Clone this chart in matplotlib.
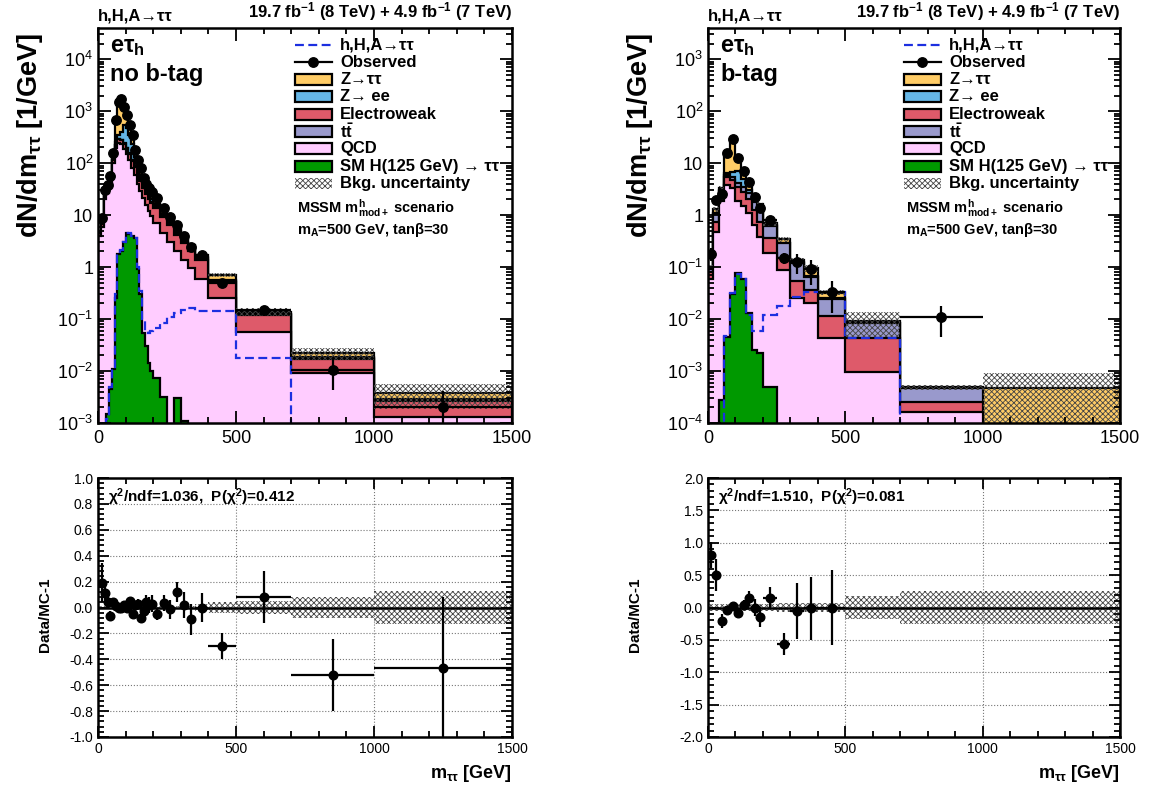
import numpy as np
import matplotlib
matplotlib.use('Agg')
import matplotlib.pyplot as plt
from matplotlib.patches import Rectangle
from matplotlib.lines import Line2D
from matplotlib.ticker import MultipleLocator, FixedLocator, LogLocator, NullFormatter

plt.rcParams['font.family'] = ['Liberation Sans', 'DejaVu Sans']
plt.rcParams['mathtext.fontset'] = 'custom'
plt.rcParams['mathtext.rm'] = 'Liberation Sans'
plt.rcParams['mathtext.bf'] = 'Liberation Sans:bold'
plt.rcParams['mathtext.it'] = 'Liberation Sans:italic'
plt.rcParams['axes.unicode_minus'] = False
plt.rcParams['hatch.linewidth'] = 0.6

############ no b-tag category ############
edges_nb = [0, 10, 20, 30, 40, 50, 60, 70, 80, 90, 100, 110, 120, 130, 140, 150, 160, 170, 180, 190, 200,
            225, 250, 275, 300, 325, 350, 400, 500, 700, 1000, 1500]
qcd_nb = [4, 6, 20, 27, 42, 100, 195, 240, 230, 190, 150, 115, 82, 58, 40, 29, 21, 15.5, 12, 9.5,
          7, 4.5, 3.1, 2.0, 1.35, 0.95, 0.6, 0.25, 0.056, 0.009, 0.0013]
ewk_nb = [0.5, 0.8, 3, 4.5, 7, 14, 30, 45, 50, 48, 42, 36, 30, 26, 20, 16, 12.5, 10, 8.5, 7.5,
          7, 4.6, 3.3, 2.2, 1.5, 1.1, 0.76, 0.26, 0.062, 0.008, 0.0013]
tt_nb = [0.05, 0.05, 0.2, 0.3, 0.5, 1, 2, 3, 4, 4, 4, 3.5, 3, 3, 2.5, 2.2, 1.8, 1.5, 1.3, 1.2,
         1, 0.7, 0.5, 0.35, 0.25, 0.18, 0.12, 0.04, 0.006, 0.001, 0.0002]
zee_nb = [0.1, 0.15, 0.8, 1.2, 2.5, 6, 25, 60, 120, 300, 280, 190, 120, 45, 20, 12, 6, 3.5, 2.6, 2,
          1.5, 0.9, 0.5, 0.3, 0.15, 0.1, 0.05, 0.02, 0.002, 0.0003, 0.0001]
ztt_nb = [0.35, 0.4, 3, 3.5, 8, 28, 411, 1142, 1346, 634, 334, 170, 128, 43, 28.5, 28, 12.7, 8, 8, 7,
          5.5, 2.8, 1.8, 0.85, 0.55, 0.32, 0.17, 0.13, 0.013, 0.0037, 0.0009]
smh_nb = [0, 0, 0, 0.0015, 0.0045, 0.011, 0.25, 1.8, 2.0, 3.0, 4.5, 4.4, 3.9, 3.6, 0.9, 0.3, 0.055, 0.03, 0.014, 0.01,
          0.0074, 0.0032, 0, 0.003, 0.0011, 0, 0, 0, 0, 0, 0]
sig_nb = [0, 0, 0, 0.0012, 0.005, 0.012, 0.3, 1.9, 2.1, 3.1, 4.6, 4.5, 4.0, 3.7, 1.0, 0.35, 0.1, 0.06, 0.055, 0.06,
          0.068, 0.085, 0.11, 0.13, 0.15, 0.16, 0.145, 0.14, 0.018, 0, 0]
unc_nb = [0.04]*26 + [0.06, 0.08, 0.17, 0.27, 0.5]
obs_nb = [np.nan, 8.8, 30, 38, 56, 155, 670, 1490, 1750, 1200, 830, 540, 345, 178, 114, 80, 52, 40, 33, 28,
          21, 14, 9.1, 6.4, 3.9, 2.4, 1.7, 0.49, 0.15, 0.0105, 0.002]
obs_err_nb = [np.nan, 1.3, 1.8, 2.0, 2.3, 4, 8, 13, 14, 11, 9, 7, 6, 4.5, 3.5, 3, 2.5, 2.1, 1.9, 1.7,
              0.9, 0.75, 0.6, 0.45, 0.38, 0.3, 0.18, 0.07, 0.028, 0.0062, 0.0021]
ratio_nb = [np.nan, 0.19, 0.11, 0.04, -0.065, 0.04, 0.01, 0.0, 0.0, 0.02, 0.0, 0.05, -0.05, 0.02, 0.03, -0.08, -0.03, 0.04, 0.02, 0.03,
            -0.05, 0.036, -0.015, 0.12, 0.02, -0.09, 0.0, -0.30, 0.08, -0.52, -0.47]
ratio_err_nb = [np.nan, 0.15, 0.06, 0.05, 0.04, 0.03, 0.015, 0.01, 0.01, 0.012, 0.015, 0.02, 0.025, 0.03, 0.035, 0.04, 0.05, 0.055, 0.06, 0.065,
                0.05, 0.06, 0.07, 0.08, 0.1, 0.12, 0.11, 0.1, 0.2, 0.28, 0.55]
band_nb = [0.015]*26 + [0.025, 0.04, 0.05, 0.08, 0.125]

############ b-tag category ############
edges_bt = [0, 20, 40, 60, 80, 100, 120, 140, 160, 180, 200, 250, 300, 350, 400, 500, 700, 1000, 1500]
qcd_bt = [0.06, 0.47, 1.9, 3.8, 3.3, 1.9, 1.5, 1.1, 0.64, 0.38, 0.19, 0.087, 0.025, 0.02, 0.0043, 0.00095, 0.00016, 0]
ewk_bt = [0.02, 0.28, 0.6, 1.6, 1.5, 1.6, 1.3, 0.9, 0.6, 0.35, 0.17, 0.06, 0.03, 0.016, 0.007, 0.0034, 0.00009, 0]
tt_bt = [0.01, 0.3, 0.4, 0.5, 0.5, 0.6, 0.7, 0.7, 0.55, 0.55, 0.27, 0.14, 0.065, 0.028, 0.013, 0.004, 0.00023, 0]
zee_bt = [0.005, 0.05, 0.1, 0.6, 1.5, 3, 1.5, 0.4, 0.15, 0.1, 0.02, 0.01, 0.003, 0.003, 0.001, 0.0002, 0, 0]
ztt_bt = [0.005, 0.2, 0.3, 10.2, 21.6, 6.5, 1.7, 0.7, 0.26, 0.22, 0.05, 0.043, 0.012, 0.028, 0.007, 0.0005, 0.00001, 0.00047]
smh_bt = [0, 0, 0.00028, 0.0045, 0.031, 0.077, 0.06, 0.013, 0.0025, 0.0022, 0.00049, 0, 0, 0, 0, 0, 0, 0]
sig_bt = [0, 0, 0, 0.0048, 0.032, 0.075, 0.06, 0.012, 0.006, 0.006, 0.012, 0.018, 0.026, 0.033, 0.033, 0.0043, 0, 0]
unc_bt = [0.1, 0.1, 0.08, 0.06, 0.06, 0.06, 0.06, 0.07, 0.08, 0.1, 0.1, 0.12, 0.12, 0.15, 0.12, 0.5, 0.1, 0.96]
obs_bt = [0.18, 1.94, 2.6, 16, 29, 12.5, 7, 4.3, 2.2, 1.36, 0.82, 0.15, 0.125, 0.09, 0.033, np.nan, 0.011, np.nan]
obs_err_bt = [0.05, 0.4, 0.35, 0.6, 1.0, 0.7, 0.5, 0.45, 0.3, 0.2, 0.12, 0.035, 0.05, 0.045, 0.02, np.nan, 0.0065, np.nan]
ratio_bt = [0.81, 0.50, -0.21, -0.04, 0.02, -0.08, 0.04, 0.14, 0.0, -0.145, 0.15, -0.56, -0.05, -0.015, 0.0, np.nan, np.nan, np.nan]
ratio_err_bt = [0.2, 0.25, 0.11, 0.04, 0.035, 0.05, 0.07, 0.12, 0.13, 0.16, 0.17, 0.17, 0.43, 0.49, 0.58, np.nan, np.nan, np.nan]
band_bt = [0.05]*11 + [0.07, 0.07, 0.07, 0.07, 0.17, 0.25, 0.25]

legend_labels = ['h,H,A→ττ', 'Observed', 'Z→ττ', 'Z→ ee', 'Electroweak', r'$\mathbf{t\bar{t}}$', 'QCD',
                 'SM H(125 GeV) → ττ', 'Bkg. uncertainty']
col_qcd, col_ewk, col_tt, col_zee, col_ztt = '#FFCCFF', '#DE5A6A', '#9999CC', '#66B6E6', '#FFCC66'
col_smh, col_sig = '#009900', '#1C2FE0'
FLOOR = 1e-7


def log_lab(e):
    if e == 0:
        return '1'
    if e == 1:
        return '10'
    return r'$10^{%d}$' % e


def top_panel(ax, edges, comps, smh, sig, unc, obs, obs_err, emin, emax, cat):
    edges = np.array(edges, float)
    cum = np.cumsum(np.array(comps, float), axis=0)
    cols = [col_qcd, col_ewk, col_tt, col_zee, col_ztt]
    for k in range(4, -1, -1):
        ax.stairs(np.clip(cum[k], FLOOR, None), edges, baseline=FLOOR, fill=True,
                  facecolor=cols[k], edgecolor='k', lw=1.6)
    ax.stairs(np.clip(smh, FLOOR, None), edges, baseline=FLOOR, fill=True,
              facecolor=col_smh, edgecolor='k', lw=1.6)
    ax.stairs(np.clip(sig, FLOOR, None), edges, baseline=FLOOR, color=col_sig, lw=1.6, ls=(0, (4, 2)))
    tot = cum[-1]
    unc = np.array(unc)
    ax.stairs(np.clip(tot*(1+unc), FLOOR, None), edges, baseline=np.clip(tot*(1-unc), FLOOR, None),
              fill=True, facecolor='none', edgecolor='#444444', hatch='xxxxxx', lw=0)
    cen = 0.5*(edges[1:]+edges[:-1])
    hw = 0.5*(edges[1:]-edges[:-1])
    ax.errorbar(cen, obs, xerr=hw, yerr=obs_err, fmt='o', color='k', ms=6.8, elinewidth=1.6, capsize=0)

    ax.set_yscale('log')
    ax.set_xlim(0, 1500)
    ax.set_ylim(10.0**emin, 10.0**emax)
    ax.yaxis.set_major_locator(FixedLocator([10.0**e for e in range(emin, int(emax)+1)]))
    ax.set_yticklabels([log_lab(e) for e in range(emin, int(emax)+1)])
    ax.yaxis.set_minor_locator(LogLocator(base=10, subs=np.arange(2, 10), numticks=20))
    ax.yaxis.set_minor_formatter(NullFormatter())
    ax.xaxis.set_major_locator(MultipleLocator(500))
    ax.xaxis.set_minor_locator(MultipleLocator(100))
    ax.tick_params(which='both', direction='in', top=True, right=True, width=1.3, labelsize=13)
    ax.tick_params(which='major', length=9)
    ax.tick_params(which='minor', length=4.5)
    ax.tick_params(axis='x', pad=5)
    for s in ax.spines.values():
        s.set_linewidth(1.8)

    # category label
    ax.text(0.03, 0.952, r'e$\mathbf{\tau_h}$', transform=ax.transAxes, fontsize=17, fontweight='bold', va='center')
    ax.text(0.03, 0.882, cat, transform=ax.transAxes, fontsize=17, fontweight='bold', va='center')

    # legend drawn entry by entry
    x0, x1, xt = 0.476, 0.565, 0.585
    y0, dy, bh = 0.957, 0.0438, 0.028
    fills = [col_ztt, col_zee, col_ewk, col_tt, col_qcd, col_smh]
    for i, lab in enumerate(legend_labels):
        y = y0 - i*dy
        if i == 0:
            ax.add_line(Line2D([x0, x1], [y, y], transform=ax.transAxes, color=col_sig, lw=1.6, ls=(0, (4, 2))))
        elif i == 1:
            ax.add_line(Line2D([x0, x1], [y, y], transform=ax.transAxes, color='k', lw=1.6))
            ax.add_line(Line2D([0.5*(x0+x1)], [y], transform=ax.transAxes, color='k', marker='o', ms=6.8))
        elif i < 8:
            ax.add_patch(Rectangle((x0, y-bh/2), x1-x0, bh, transform=ax.transAxes,
                                   facecolor=fills[i-2], edgecolor='k', lw=1.6))
        else:
            ax.add_patch(Rectangle((x0, y-bh/2), x1-x0, bh, transform=ax.transAxes,
                                   facecolor='white', edgecolor='#444444', hatch='xxxxxx', lw=0))
        ax.text(xt, y, lab, transform=ax.transAxes, fontsize=12, fontweight='bold', va='center')
    ax.text(0.481, 0.544, r'MSSM m$^{\mathbf{h}}_{\mathbf{mod+}}$ scenario', transform=ax.transAxes,
            fontsize=10.5, fontweight='bold', va='center')
    ax.text(0.481, 0.489, r'm$_{\mathbf{A}}$=500 GeV, tanβ=30', transform=ax.transAxes,
            fontsize=10.5, fontweight='bold', va='center')
    ax.text(0.0, 1.012, 'h,H,A→ττ', transform=ax.transAxes,
            fontsize=12, fontweight='bold', va='bottom', ha='left')
    ax.text(1.0, 1.012, r'19.7 fb$^{\mathbf{-1}}$ (8 TeV) + 4.9 fb$^{\mathbf{-1}}$ (7 TeV)',
            transform=ax.transAxes, fontsize=12, fontweight='bold', va='bottom', ha='right')


def ratio_panel(ax, edges, ratio, rerr, band, ylim, major, minor, chi2txt):
    edges = np.array(edges, float)
    band = np.array(band)
    ax.grid(True, which='major', ls=':', color='#777777', lw=0.8)
    ax.stairs(band, edges, baseline=-band, fill=True, facecolor='none', edgecolor='#444444',
              hatch='xxxxxx', lw=0)
    ax.axhline(0, color='k', lw=1.8)
    cen = 0.5*(edges[1:]+edges[:-1])
    hw = 0.5*(edges[1:]-edges[:-1])
    ax.errorbar(cen, ratio, xerr=hw, yerr=rerr, fmt='o', color='k', ms=6.2, elinewidth=1.6, capsize=0)
    ax.set_xlim(0, 1500)
    ax.set_ylim(-ylim, ylim)
    ax.yaxis.set_major_locator(MultipleLocator(major))
    ax.yaxis.set_minor_locator(MultipleLocator(minor))
    ax.yaxis.set_major_formatter(plt.FormatStrFormatter('%.1f'))
    ax.xaxis.set_major_locator(MultipleLocator(500))
    ax.xaxis.set_minor_locator(MultipleLocator(100))
    ax.tick_params(which='both', direction='in', top=True, right=True, width=1.3, labelsize=10)
    ax.tick_params(which='major', length=8)
    ax.tick_params(which='minor', length=4)
    for s in ax.spines.values():
        s.set_linewidth(1.8)
    ax.text(0.025, 0.925, chi2txt, transform=ax.transAxes, fontsize=11, fontweight='bold', va='center')
    ax.text(1.0, -0.14, r'm$_{\mathbf{\tau\tau}}$ [GeV]', transform=ax.transAxes, fontsize=13,
            fontweight='bold', ha='right', va='center')


W, H = 1150, 785
fig = plt.figure(figsize=(W/100, H/100), dpi=100)
ax1 = fig.add_axes([98/W, 1-423/H, 414/W, 395/H])
ax2 = fig.add_axes([708/W, 1-423/H, 412/W, 395/H])
ax3 = fig.add_axes([98/W, 1-737/H, 414/W, 259/H])
ax4 = fig.add_axes([708/W, 1-737/H, 412/W, 259/H])

top_panel(ax1, edges_nb, [qcd_nb, ewk_nb, tt_nb, zee_nb, ztt_nb], smh_nb, sig_nb, unc_nb,
          obs_nb, obs_err_nb, -3, 4.6, 'no b-tag')
top_panel(ax2, edges_bt, [qcd_bt, ewk_bt, tt_bt, zee_bt, ztt_bt], smh_bt, sig_bt, unc_bt,
          obs_bt, obs_err_bt, -4, 3.6, 'b-tag')
ratio_panel(ax3, edges_nb, ratio_nb, ratio_err_nb, band_nb, 1.0, 0.2, 0.04,
            r'$\mathbf{\chi^2}$/ndf=1.036,  P($\mathbf{\chi^2}$)=0.412')
ratio_panel(ax4, edges_bt, ratio_bt, ratio_err_bt, band_bt, 2.0, 0.5, 0.1,
            r'$\mathbf{\chi^2}$/ndf=1.510,  P($\mathbf{\chi^2}$)=0.081')

for xpix in (30, 640):
    fig.text(xpix/W, 1-33/H, r'dN/dm$_{\mathbf{\tau\tau}}$ [1/GeV]', rotation=90, fontsize=19.5,
             fontweight='bold', ha='center', va='top')
for xpix in (45, 635):
    fig.text(xpix/W, 1-615/H, 'Data/MC-1', rotation=90, fontsize=11, fontweight='bold',
             ha='center', va='center')

fig.savefig('out.png', dpi=100)
